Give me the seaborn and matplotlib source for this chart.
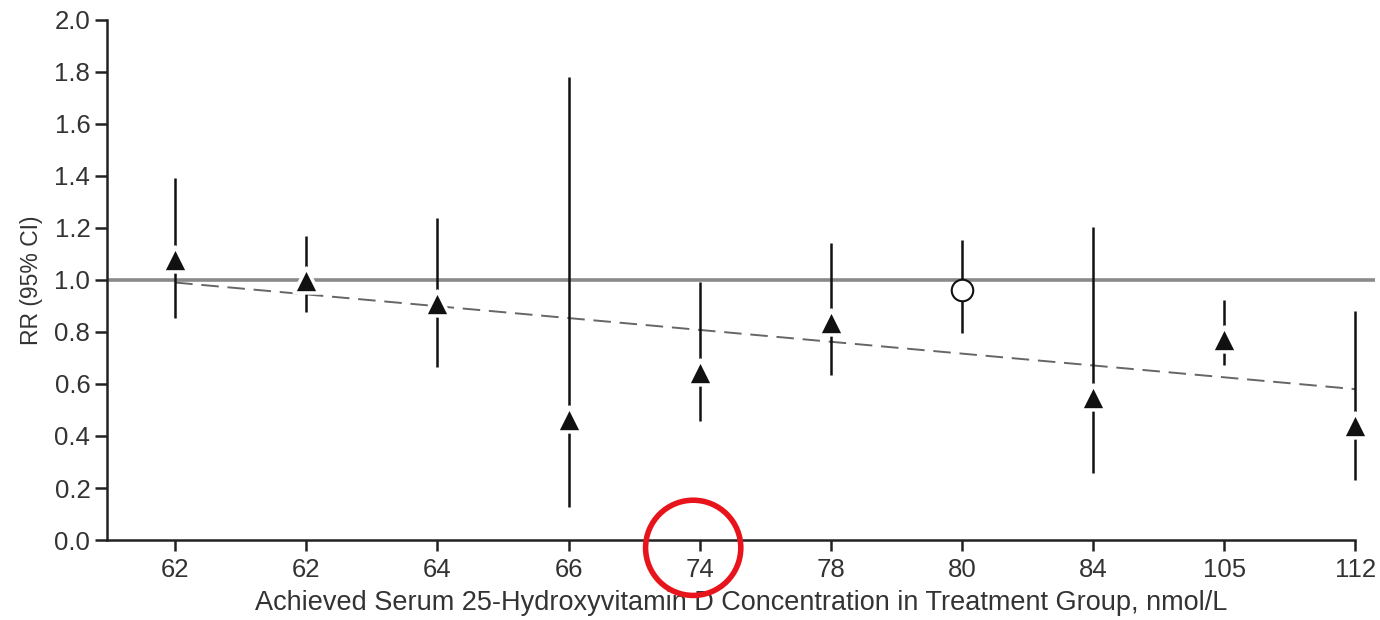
import matplotlib
matplotlib.use("Agg")
import matplotlib.pyplot as plt
import pandas as pd
import seaborn as sns

# Data
dose_labels = ['62', '62', '64', '66', '74', '78', '80', '84', '105', '112']
rr = [1.08, 1.00, 0.91, 0.465, 0.646, 0.838, 0.962, 0.55, 0.773, 0.442]
ci_low = [0.855, 0.877, 0.665, 0.127, 0.458, 0.635, 0.796, 0.258, 0.673, 0.23]
ci_high = [1.39, 1.17, 1.24, 1.78, 0.992, 1.142, 1.154, 1.204, 0.923, 0.88]
marker_kind = ['tri', 'tri', 'tri', 'tri', 'tri', 'tri', 'circ', 'tri', 'tri', 'tri']
trend_x = [0, 9]
trend_y = [0.99, 0.58]

df = pd.DataFrame({'pos': range(len(dose_labels)), 'rr': rr,
                   'lo': ci_low, 'hi': ci_high, 'kind': marker_kind})

sns.set_style('ticks')
plt.rcParams['font.family'] = ['Liberation Sans', 'DejaVu Sans']

fig = plt.figure(figsize=(13.8, 6.2), dpi=100)
ax = fig.add_axes([0.0775, 0.129, 0.919, 0.839])

# reference line at RR = 1
ax.axhline(1.0, color='#8a8a8a', lw=2.6, zorder=1)

# trend line
sns.lineplot(x=trend_x, y=trend_y, color='#666666', lw=1.4, ax=ax, zorder=2)
ax.lines[-1].set_dashes([9, 4.5])

# confidence intervals
ax.vlines(df['pos'], df['lo'], df['hi'], color='#111111', lw=1.8, zorder=3)

# point estimates
tri = df[df['kind'] == 'tri']
circ = df[df['kind'] == 'circ']
sns.scatterplot(data=tri, x='pos', y='rr', marker='^', s=320, color='#111111',
                edgecolor='white', linewidth=2.5, ax=ax, zorder=4)
sns.scatterplot(data=circ, x='pos', y='rr', marker='o', s=240, color='white',
                edgecolor='#111111', linewidth=1.5, ax=ax, zorder=4)

ax.set_xlim(-0.52, 9.15)
ax.set_ylim(0, 2.0)
ax.set_xticks(df['pos'])
ax.set_xticklabels(dose_labels)
ax.set_yticks([i / 5 for i in range(11)])
ax.set_yticklabels([f'{i / 5:.1f}' for i in range(11)])

for side in ['top', 'right']:
    ax.spines[side].set_visible(False)
ax.spines['bottom'].set_bounds(-0.52, 9)
for side in ['left', 'bottom']:
    ax.spines[side].set_linewidth(1.8)
    ax.spines[side].set_color('#222222')

ax.tick_params(axis='both', direction='out', width=1.8, color='#222222',
               labelsize=18.5, labelcolor='#333333')
ax.tick_params(axis='y', length=9, pad=3)
ax.tick_params(axis='x', length=8, pad=5)

ax.set_xlabel('Achieved Serum 25-Hydroxyvitamin D Concentration in Treatment Group, nmol/L',
              fontsize=19.5, color='#333333', labelpad=6)
ax.set_ylabel('RR (95% CI)', fontsize=16.5, color='#333333', labelpad=8)

# highlight circle around the 74 tick label
ax.scatter([3.95], [-0.03], s=4700, facecolor='none', edgecolor='#e8141b',
           linewidth=4, clip_on=False, zorder=6)

fig.savefig('out.png', dpi=100)
